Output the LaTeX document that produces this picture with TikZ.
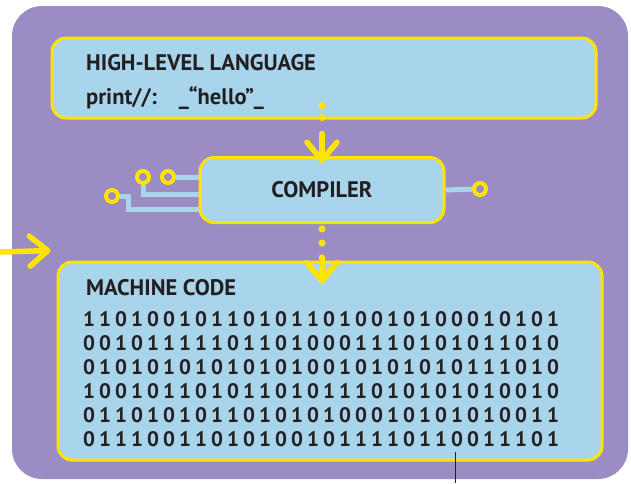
\documentclass[tikz,border=0pt]{standalone}
\usepackage{fontspec}
\setmainfont{PT Sans}
\usetikzlibrary{arrows.meta,positioning,calc,backgrounds}
\definecolor{panel}{RGB}{155,141,196}
\definecolor{screen}{RGB}{168,212,236}
\definecolor{spark}{RGB}{255,228,0}
\definecolor{ink}{RGB}{35,31,32}
% one row of bits, every digit on a fixed pitch
\def\bitloop#1{\ifx#1\relax\else\makebox[16pt]{#1}\expandafter\bitloop\fi}
\newcommand\bitrow[1]{\edef\bitlist{#1}\expandafter\bitloop\bitlist\relax}

\begin{document}
\begin{tikzpicture}[
  x=1pt, y=-1pt,
  font=\bfseries\fontsize{22.5}{24}\selectfont, text=ink,
  box/.style={draw=spark, line width=3pt, fill=screen, rounded corners=14pt, inner sep=0pt},
  head/.style={anchor=base west, inner sep=0pt},
  bitline/.style={anchor=base west, inner sep=0pt, font=\bfseries\fontsize{21}{22}\selectfont},
  pad/.style={circle, draw=spark, line width=4pt, fill=panel, minimum size=12pt, inner sep=0pt},
  trace/.style={screen, line width=5pt},
  blip/.style={circle, fill=spark, minimum size=7pt, inner sep=0pt},
  flow/.style={spark, line width=5.5pt, line cap=round, -{Straight Barb[length=18pt, width=30pt, round]}},
]
\useasboundingbox (0,0) rectangle (631,483);

% the three stages
\node[box, minimum width=544pt, minimum height=80pt] (hll) at (324,78) {};
\node[box, minimum width=244pt, minimum height=65pt] (comp) at (322,190) {COMPILER};
\node[box, minimum width=544pt, minimum height=198pt] (mc) at (330,361) {};

\node[head] (hllTitle) at (86,70) {HIGH-LEVEL LANGUAGE};
\node[head] (hllCode) at (86,104) {print//:\hspace{22pt}\_“hello”\_};
\node[head] (mcTitle) at (86,295) {MACHINE CODE};
\foreach \bits [count=\r] in {110100101101011010010100010101,
    001011111011010001110101011010,
    010101010101010010101010111010,
    100101101011010111010101010010,
    011010101101010100010101010011,
    011100110101001011110110011101}
  \node[bitline] (bits\r) at (81,{302+24*\r}) {\bitrow{\bits}};

% circuit pads
\node[pad] (padA) at (143,177) {};
\node[pad] (padB) at (168,177) {};
\node[pad] (padC) at (112,196) {};
\node[pad] (padD) at (480,189) {};

\begin{scope}[on background layer]
\fill[panel, rounded corners=30pt] (12,6) rectangle (628,479);
\draw[trace] (padB) -- (padB -| comp.west);
\draw[trace] (padA) |- ($(comp.west)+(0,4)$);
\draw[trace] (padC) -- ++(16,0) |- ($(comp.west)+(0,19)$);
\draw[trace] (comp.east) -- (padD);
\end{scope}

% flow between stages
\node[blip] (dotA) at ($(hll.south -| comp.north)+(0,-14)$) {};
\node[blip] (dotB) at ($(hll.south -| comp.north)+(0,-2)$) {};
\draw[flow] ($(hll.south -| comp.north)+(0,14)$) -- ($(comp.north)+(0,7)$);
\node[blip] (dotC) at ($(comp.south)+(0,5)$) {};
\node[blip] (dotD) at ($(comp.south)+(0,19)$) {};
\draw[flow] ($(comp.south)+(0,33)$) -- ($(comp.north |- mc.north)+(0,23)$);

\coordinate (feed) at (0,252);
\draw[flow] (feed) -- ($(mc.north west)+(-6,-10)$);

\coordinate (leadTop) at (455,452);
\coordinate (leadEnd) at (455,483);
\draw[ink, line width=0.8pt] (leadTop) -- (leadEnd);
\end{tikzpicture}
\end{document}
